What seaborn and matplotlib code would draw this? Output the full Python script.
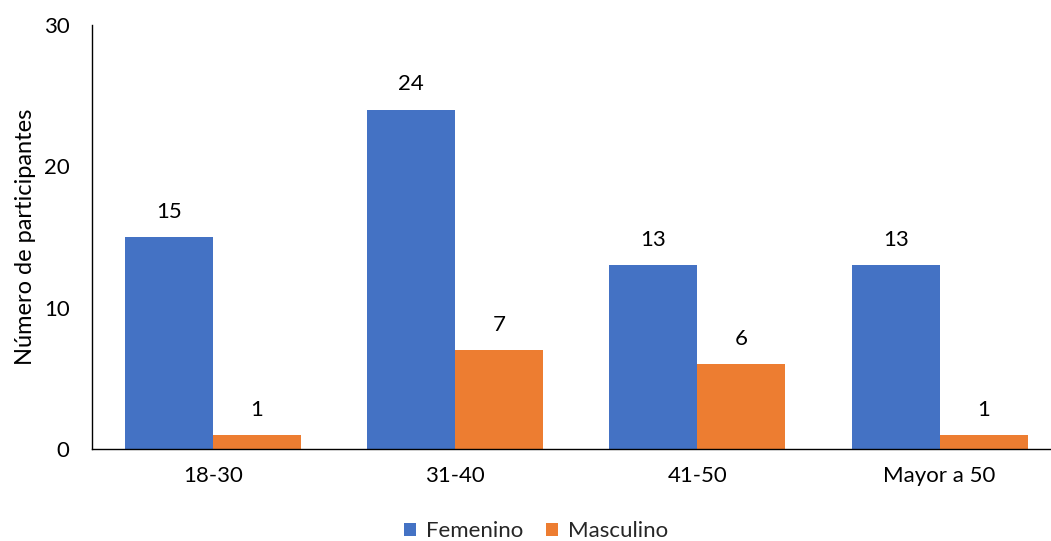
import matplotlib
matplotlib.use("Agg")
import matplotlib.pyplot as plt
import seaborn as sns
import pandas as pd
from matplotlib.patches import Patch

grupos = ["18-30", "31-40", "41-50", "Mayor a 50"]
femenino = [15, 24, 13, 13]
masculino = [1, 7, 6, 1]
series = ["Femenino", "Masculino"]
colores = ["#4472C4", "#ED7D31"]

df = pd.DataFrame({
    "grupo": grupos * 2,
    "valor": femenino + masculino,
    "sexo": [series[0]] * len(grupos) + [series[1]] * len(grupos),
})

sns.set_theme(style="white")
plt.rcParams["font.family"] = ["Lato", "DejaVu Sans"]

FS = 16

fig = plt.figure(figsize=(10.51, 5.41), dpi=100)
ax = fig.add_axes([0.0875, 0.170, 0.9125, 0.784])

sns.barplot(data=df, x="grupo", y="valor", hue="sexo", order=grupos,
            hue_order=series, palette=colores, width=0.727, linewidth=0,
            saturation=1, ax=ax, legend=False)

for cont in ax.containers:
    ax.bar_label(cont, padding=11, fontsize=FS, color="black")

ax.set_ylim(0, 30)
ax.set_yticks([0, 10, 20, 30])
ax.set_xlim(-0.5, 3.46)
ax.tick_params(axis="both", length=0, labelsize=FS, colors="black")
ax.tick_params(axis="x", pad=12)
ax.tick_params(axis="y", pad=16)
ax.set_xlabel("")
ax.set_ylabel("Número de participantes", fontsize=17, color="black", labelpad=6)

for s in ["top", "right"]:
    ax.spines[s].set_visible(False)
for s in ["left", "bottom"]:
    ax.spines[s].set_color("black")
    ax.spines[s].set_linewidth(1.0)

handles = [Patch(facecolor=c, edgecolor="none") for c in colores]
fig.legend(handles, series, loc="center", bbox_to_anchor=(0.51, 0.018),
           ncol=2, frameon=False, fontsize=FS, handlelength=0.55,
           handleheight=0.55, handletextpad=0.45, columnspacing=1.0)

fig.savefig("out.png", dpi=100)
